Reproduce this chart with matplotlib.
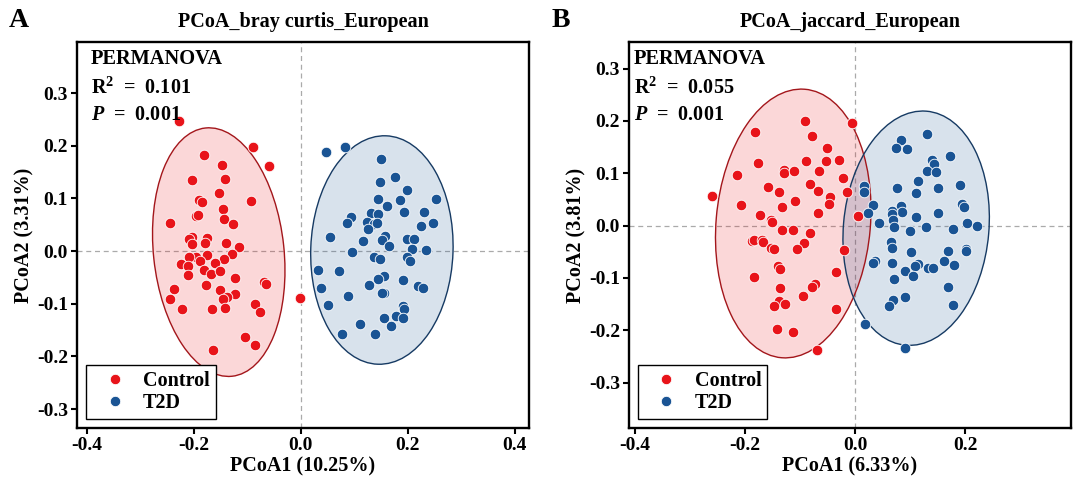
import numpy as np
import matplotlib
matplotlib.use("Agg")
from matplotlib import pyplot as plt
from matplotlib.patches import Ellipse
from matplotlib.lines import Line2D

plt.rcParams["font.family"] = ["Liberation Serif", "DejaVu Serif"]
plt.rcParams["font.weight"] = "bold"
plt.rcParams["axes.unicode_minus"] = False
plt.rcParams["mathtext.fontset"] = "custom"
plt.rcParams["mathtext.rm"] = "Liberation Serif:bold"
plt.rcParams["mathtext.it"] = "Liberation Serif:bold:italic"

# ---- panel A : bray curtis ----
bc_ctrl_x = [-0.2265, -0.0894, -0.1798, -0.0583, -0.1467, -0.2034, -0.1417, -0.1517, -0.1891, -0.1835,
             -0.0925, -0.1455, -0.2439, -0.1960, -0.1910, -0.1436, -0.1255, -0.2034, -0.2078, -0.1748,
             -0.1785, -0.2022, -0.1399, -0.1156, -0.1287, -0.1424, -0.1960, -0.2090, -0.1741, -0.1879,
             -0.1598, -0.2234, -0.2097, -0.1798, -0.1667, -0.1498, -0.2109, -0.1224, -0.0688, -0.0645,
             -0.1766, -0.2364, -0.1505, -0.1224, -0.1380, -0.1455, -0.2439, -0.0009, -0.0850, -0.2221,
             -0.1654, -0.1411, -0.0757, -0.1037, -0.0857, -0.1642]
bc_ctrl_y = [0.2471, 0.1971, 0.1825, 0.1610, 0.1641, 0.1343, 0.1362, 0.1096, 0.0963, 0.0925,
             0.0944, 0.0798, 0.0539, 0.0672, 0.0678, 0.0615, 0.0513, 0.0260, 0.0222, 0.0241,
             0.0146, 0.0133, 0.0152, 0.0082, -0.0063, -0.0146, -0.0108, -0.0114, -0.0076, -0.0184,
             -0.0222, -0.0247, -0.0285, -0.0361, -0.0437, -0.0374, -0.0450, -0.0513, -0.0589, -0.0634,
             -0.0653, -0.0722, -0.0741, -0.0817, -0.0868, -0.0906, -0.0913, -0.0894, -0.1001, -0.1103,
             -0.1096, -0.1084, -0.1153, -0.1629, -0.1787, -0.1876]
bc_t2d_x = [0.0470, 0.0838, 0.1511, 0.1773, 0.1480, 0.1997, 0.1449, 0.1860, 0.1611, 0.2526,
            0.1928, 0.2315, 0.1324, 0.1455, 0.0944, 0.0875, 0.1243, 0.1374, 0.1255, 0.1424,
            0.2246, 0.2477, 0.0558, 0.1162, 0.1579, 0.1523, 0.1997, 0.2128, 0.1648, 0.2090,
            0.0956, 0.2352, 0.1380, 0.1486, 0.1997, 0.2040, 0.0321, 0.0720, 0.1555, 0.1449,
            0.1922, 0.1280, 0.2196, 0.2296, 0.0383, 0.1567, 0.1523, 0.0882, 0.0508, 0.1910,
            0.1928, 0.1561, 0.1791, 0.1916, 0.1112, 0.1685, 0.0769, 0.1386]
bc_t2d_y = [0.1876, 0.1984, 0.1749, 0.1401, 0.1305, 0.1160, 0.0989, 0.0963, 0.0862, 0.0995,
            0.0748, 0.0735, 0.0729, 0.0697, 0.0646, 0.0532, 0.0545, 0.0520, 0.0425, 0.0532,
            0.0469, 0.0526, 0.0260, 0.0190, 0.0279, 0.0203, 0.0222, 0.0228, 0.0095, 0.0038,
            -0.0013, 0.0025, -0.0120, -0.0158, -0.0114, -0.0190, -0.0361, -0.0374, -0.0482, -0.0539,
            -0.0551, -0.0646, -0.0665, -0.0703, -0.0697, -0.0792, -0.0805, -0.0856, -0.1033, -0.1046,
            -0.1109, -0.1267, -0.1242, -0.1267, -0.1388, -0.1426, -0.1584, -0.1584]

# ---- panel B : jaccard ----
jc_ctrl_x = [-0.0900, -0.0060, -0.1819, -0.0785, -0.0502, -0.1758, -0.0888, -0.0532, -0.0296, -0.1293,
             -0.1281, -0.1112, -0.0647, -0.2145, -0.0211, -0.0822, -0.1583, -0.1372, -0.0665, -0.0145,
             -0.0459, -0.0477, -0.2598, -0.2073, -0.1094, -0.1323, -0.1722, -0.0671, 0.0054, -0.1523,
             -0.1505, -0.1329, -0.1124, -0.0810, -0.1873, -0.1837, -0.1692, -0.1668, -0.1523, -0.1468,
             -0.0918, -0.1045, -0.0199, -0.1396, -0.1353, -0.0350, -0.1825, -0.1360, -0.0719, -0.0773,
             -0.0943, -0.1372, -0.1269, -0.1474, -0.0338, -0.1408, -0.1124, -0.0689]
jc_ctrl_y = [0.1995, 0.1957, 0.1797, 0.1708, 0.1479, 0.1198, 0.1243, 0.1230, 0.1262, 0.1071,
             0.1013, 0.1045, 0.1052, 0.0975, 0.0911, 0.0803, 0.0733, 0.0644, 0.0669, 0.0650,
             0.0554, 0.0421, 0.0574, 0.0395, 0.0478, 0.0357, 0.0210, 0.0242, 0.0178, 0.0102,
             0.0064, -0.0089, -0.0076, -0.0134, -0.0293, -0.0274, -0.0268, -0.0306, -0.0421, -0.0453,
             -0.0338, -0.0440, -0.0472, -0.0771, -0.0822, -0.0892, -0.0988, -0.1185, -0.1122, -0.1173,
             -0.1345, -0.1440, -0.1504, -0.1542, -0.1600, -0.1976, -0.2033, -0.2371]
jc_t2d_x = [0.1299, 0.0828, 0.0737, 0.0937, 0.1728, 0.1396, 0.1426, 0.1311, 0.1462, 0.1142,
            0.0157, 0.0169, 0.0761, 0.1511, 0.1903, 0.1106, 0.1946, 0.1976, 0.0840, 0.0846,
            0.0671, 0.0332, 0.0230, 0.1106, 0.1505, 0.0665, 0.0683, 0.0435, 0.0707, 0.1293,
            0.2036, 0.2211, 0.0991, 0.1770, 0.0653, 0.0671, 0.1015, 0.2006, 0.2012, 0.1692,
            0.0356, 0.0332, 0.0671, 0.1148, 0.1094, 0.1607, 0.1789, 0.1317, 0.1420, 0.0906,
            0.1057, 0.0713, 0.1680, 0.0695, 0.0610, 0.0906, 0.1770, 0.0187, 0.0900]
jc_t2d_y = [0.1759, 0.1644, 0.1479, 0.1466, 0.1326, 0.1256, 0.1179, 0.1052, 0.1026, 0.0860,
            0.0758, 0.0650, 0.0727, 0.0727, 0.0771, 0.0625, 0.0421, 0.0357, 0.0382, 0.0255,
            0.0287, 0.0389, 0.0242, 0.0172, 0.0249, 0.0229, 0.0108, 0.0057, -0.0032, -0.0032,
            0.0051, -0.0013, -0.0096, -0.0064, -0.0319, -0.0433, -0.0510, -0.0440, -0.0484, -0.0491,
            -0.0676, -0.0707, -0.0707, -0.0727, -0.0778, -0.0669, -0.0758, -0.0816, -0.0816, -0.0867,
            -0.0962, -0.1013, -0.1179, -0.1428, -0.1530, -0.1370, -0.1517, -0.1887, -0.2345]

# confidence ellipses: centre x, centre y, width, height, angle (deg)
bc_ellipses = [(-0.153, -0.002, 0.244, 0.474, 6.0), (0.152, 0.002, 0.266, 0.434, -2.0)]
jc_ellipses = [(-0.112, 0.004, 0.280, 0.515, -4.6), (0.111, -0.005, 0.264, 0.449, -4.7)]

groups = ["Control", "T2D"]
colors = ["#E8141A", "#1A5494"]
edge_colors = ["#A3161B", "#163A63"]

titles = ["PCoA_bray curtis_European", "PCoA_jaccard_European"]
xlabels = ["PCoA1 (10.25%)", "PCoA1 (6.33%)"]
ylabels = ["PCoA2 (3.31%)", "PCoA2 (3.81%)"]
r2_vals = ["0.101", "0.055"]
p_vals = ["0.001", "0.001"]
panel_tags = ["A", "B"]


def draw_panel(ax, pts, ellipses, title, xlabel, ylabel, r2, pval, xlim, ylim, xticks, text_x):
    for (cx, cy, w, h, ang), col, ec in zip(ellipses, colors, edge_colors):
        ax.add_patch(Ellipse((cx, cy), w, h, angle=ang, facecolor=col, alpha=0.17,
                             edgecolor="none", zorder=1))
        ax.add_patch(Ellipse((cx, cy), w, h, angle=ang, facecolor="none",
                             edgecolor=ec, linewidth=1.0, zorder=2))
    ax.axvline(0, color="#AAAAAA", linestyle=(0, (4, 3)), linewidth=0.9, zorder=0)
    ax.axhline(0, color="#AAAAAA", linestyle=(0, (4, 3)), linewidth=0.9, zorder=0)
    for (x, y), col in zip(pts, colors):
        ax.scatter(x, y, s=58, c=col, edgecolors="white", linewidths=0.6, zorder=3)

    ax.set_xlim(*xlim)
    ax.set_ylim(*ylim)
    ax.set_xticks(xticks)
    ax.set_yticks([-0.3, -0.2, -0.1, 0.0, 0.1, 0.2, 0.3])
    ax.xaxis.set_major_formatter(matplotlib.ticker.FormatStrFormatter("%.1f"))
    ax.yaxis.set_major_formatter(matplotlib.ticker.FormatStrFormatter("%.1f"))
    for sp in ax.spines.values():
        sp.set_linewidth(1.7)
    ax.tick_params(direction="out", length=4, width=1.5, labelsize=14, pad=2.5)
    for lab in ax.get_xticklabels() + ax.get_yticklabels():
        lab.set_fontweight("bold")
    ax.set_title(title, fontsize=14.5, fontweight="bold", pad=11)
    ax.set_xlabel(xlabel, fontsize=14.5, fontweight="bold", labelpad=2)
    ax.set_ylabel(ylabel, fontsize=14.5, fontweight="bold", labelpad=1.5)

    ax.text(text_x, 0.943, "PERMANOVA", transform=ax.transAxes, fontsize=14.7,
            fontweight="bold", va="baseline")
    ax.text(text_x, 0.866, r"R$^{2}$  =  " + r2, transform=ax.transAxes, fontsize=14.5,
            fontweight="bold", va="baseline")
    ax.text(text_x, 0.798, r"$P$  =  " + pval, transform=ax.transAxes, fontsize=14.5,
            fontweight="bold", va="baseline")

    handles = [Line2D([], [], marker="o", linestyle="none", markersize=7.5,
                      markerfacecolor=c, markeredgecolor="white", markeredgewidth=0.6)
               for c in colors]
    leg = ax.legend(handles, groups, loc="lower left", bbox_to_anchor=(0.021, 0.023),
                    borderaxespad=0, fancybox=False, framealpha=1, edgecolor="black",
                    prop={"weight": "bold", "size": 14.5}, handletextpad=0.3,
                    borderpad=0.3, labelspacing=0.08, handlelength=2.2)
    leg.get_frame().set_linewidth(1.0)


fig = plt.figure(figsize=(10.8, 4.9), dpi=100)
ax1 = fig.add_axes([0.0713, 0.1265, 0.4185, 0.7878])
ax2 = fig.add_axes([0.5824, 0.1265, 0.4093, 0.7878])

draw_panel(ax1, [(bc_ctrl_x, bc_ctrl_y), (bc_t2d_x, bc_t2d_y)], bc_ellipses,
           titles[0], xlabels[0], ylabels[0], r2_vals[0], p_vals[0],
           (-0.418, 0.427), (-0.336, 0.397), [-0.4, -0.2, 0.0, 0.2, 0.4], 0.031)
draw_panel(ax2, [(jc_ctrl_x, jc_ctrl_y), (jc_t2d_x, jc_t2d_y)], jc_ellipses,
           titles[1], xlabels[1], ylabels[1], r2_vals[1], p_vals[1],
           (-0.410, 0.392), (-0.387, 0.351), [-0.4, -0.2, 0.0, 0.2], 0.011)

fig.text(0.017, 0.958, panel_tags[0], fontsize=20, fontweight="bold", va="center", ha="center")
fig.text(0.519, 0.958, panel_tags[1], fontsize=20, fontweight="bold", va="center", ha="center")

fig.savefig("out.png", dpi=100)
